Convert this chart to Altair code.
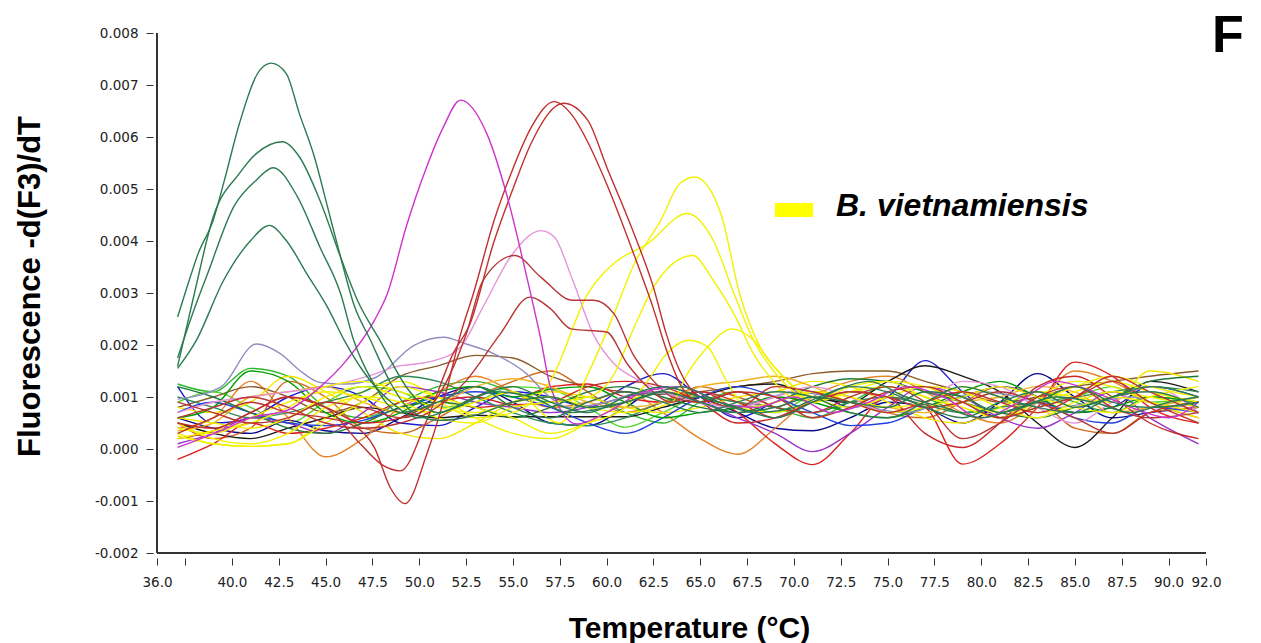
import altair as alt
import pandas as pd

# Melt-curve derivative traces, values in units of 0.001 (-dF/dT)

# Shared temperature grid for the non-amplifying background traces
grid_t = [37.1, 39, 41, 43, 45, 47, 49, 51, 53, 55, 57, 59, 61, 63, 65,
          67, 69, 71, 73, 75, 77, 79, 81, 83, 85, 87, 89, 91.6]

bg_green = [1.25, 1.1, 1.55, 1.4, 0.8, 0.6, 0.9, 1.2, 1.3, 1.1, 0.9, 1.0, 0.7, 0.5, 0.9, 1.1, 0.8, 0.6, 0.9, 1.2, 1.0, 0.7, 0.8, 1.1, 0.9, 0.7, 1.0, 0.9]
bg_lime = [0.9, 1.1, 0.8, 0.5, 0.9, 1.2, 1.1, 0.8, 0.9, 1.2, 1.15, 0.8, 0.42, 0.7, 1.0, 0.9, 0.7, 1.0, 0.9, 0.8, 1.1, 0.9, 0.6, 0.8, 1.0, 1.2, 0.9, 1.0]
bg_blue = [1.2, 0.5, 0.6, 1.0, 1.2, 1.0, 0.5, 0.45, 0.8, 1.1, 1.0, 0.8, 1.2, 1.45, 1.0, 0.6, 0.9, 1.1, 0.8, 1.0, 1.7, 1.1, 0.6, 0.9, 0.7, 0.8, 1.2, 1.0]
bg_navy = [0.6, 0.4, 0.3, 0.55, 0.35, 0.3, 0.6, 1.0, 1.2, 0.9, 0.5, 0.45, 0.8, 1.2, 1.0, 0.7, 0.4, 0.35, 0.6, 0.9, 0.8, 0.5, 0.9, 1.45, 1.0, 0.6, 0.7, 0.8]
bg_orange = [0.4, 0.6, 1.3, 0.6, -0.15, 0.2, 0.8, 1.1, 1.4, 1.1, 0.8, 0.9, 1.1, 0.7, 0.2, -0.1, 0.4, 1.0, 1.3, 1.4, 1.1, 0.7, 0.5, 0.9, 1.5, 1.3, 0.9, 0.6]
bg_dkorange = [0.5, 0.2, 0.4, 1.3, 1.0, 0.4, 0.3, 0.6, 1.0, 1.3, 1.5, 1.1, 0.7, 0.9, 1.2, 1.0, 0.8, 1.1, 1.0, 0.7, 0.6, 0.9, 1.2, 1.0, 0.4, 0.3, 0.7, 0.8]
bg_brown = [0.8, 1.0, 1.2, 1.0, 0.7, 0.9, 1.4, 1.6, 1.8, 1.75, 1.4, 1.2, 1.1, 1.05, 1.1, 1.2, 1.3, 1.45, 1.5, 1.5, 1.3, 1.1, 0.9, 1.0, 1.2, 1.3, 1.4, 1.5]
bg_black = [0.5, 0.3, 0.2, 0.4, 0.6, 0.8, 0.7, 0.6, 0.65, 0.62, 0.62, 0.62, 0.62, 0.8, 1.0, 1.2, 1.25, 1.0, 0.9, 1.3, 1.6, 1.4, 1.1, 0.5, 0.03, 0.6, 1.3, 1.1]
bg_red = [-0.2, 0.1, 0.5, 0.3, 0.4, 0.6, 0.9, 1.0, 0.8, 0.9, 1.2, 1.25, 1.0, 0.9, 1.1, 0.7, 0.1, -0.3, 0.3, 1.0, 0.8, -0.29, 0.1, 0.8, 1.67, 1.4, 0.8, 0.5]
bg_yellow = [0.3, 0.1, 0.05, 0.1, 0.6, 1.1, 1.3, 1.0, 0.6, 0.3, 0.2, 0.5, 0.9, 1.1, 1.0, 0.8, 0.7, 0.9, 1.1, 1.2, 1.0, 0.8, 0.6, 1.0, 1.3, 1.2, 0.9, 0.6]
bg_yellow2 = [0.8, 0.7, 0.9, 1.4, 1.1, 0.7, 0.3, 0.2, 0.5, 0.9, 1.1, 1.0, 0.8, 0.7, 0.8, 1.0, 1.1, 1.3, 1.2, 0.9, 0.6, 0.5, 0.8, 1.1, 1.0, 0.9, 1.5, 1.3]
bg_purple = [0.1, 0.3, 0.6, 0.5, 0.3, 0.7, 1.2, 1.1, 0.9, 0.8, 0.7, 0.8, 1.0, 1.1, 0.9, 0.6, 0.3, -0.05, 0.3, 0.8, 1.2, 1.0, 0.6, 0.4, 0.7, 1.1, 0.6, 0.1]
bg_teal = [1.0, 0.8, 0.6, 0.7, 0.9, 1.1, 1.4, 1.3, 1.0, 0.7, 0.5, 0.45, 0.6, 0.9, 1.0, 0.9, 0.8, 0.7, 0.9, 1.0, 0.85, 0.7, 0.8, 0.9, 1.0, 1.1, 1.2, 1.1]
bg_blue2 = [0.7, 0.9, 0.7, 0.5, 0.45, 0.55, 0.8, 1.0, 1.1, 1.0, 0.8, 0.5, 0.3, 0.6, 1.0, 1.2, 1.0, 0.7, 0.45, 0.5, 0.8, 1.0, 1.2, 1.0, 0.6, 0.5, 0.8, 0.7]
bg_green2 = [0.6, 0.8, 1.5, 1.3, 0.7, 0.5, 0.7, 1.1, 1.2, 1.0, 1.15, 1.2, 0.9, 0.6, 0.7, 0.8, 1.0, 0.9, 0.7, 0.6, 0.8, 1.1, 1.3, 1.0, 0.7, 0.8, 1.0, 0.9]
bg_gold = [0.35, 0.5, 1.0, 1.1, 1.2, 0.9, 0.7, 0.85, 1.2, 1.35, 1.2, 0.9, 0.8, 0.9, 1.2, 1.3, 1.4, 1.2, 0.9, 0.8, 0.7, 0.9, 1.0, 1.2, 1.1, 0.7, 0.8, 1.0]
bg_dkgreen = [1.2, 1.0, 0.7, 0.4, 0.3, 0.5, 0.8, 0.9, 0.8, 0.6, 0.8, 1.1, 1.2, 1.0, 0.8, 0.7, 0.9, 1.2, 1.35, 1.3, 1.1, 0.9, 0.7, 0.6, 0.8, 1.0, 1.3, 1.4]
bg_red2 = [0.2, 0.35, 0.7, 1.0, 0.8, 0.5, 0.6, 0.9, 1.0, 0.85, 0.9, 1.2, 1.3, 1.2, 0.9, 0.5, 0.6, 0.9, 1.1, 1.0, 0.3, 0.03, 0.5, 1.2, 1.4, 1.0, 0.5, 0.2]

# Low-Tm products (green)
g1_t = [37.1, 37.6, 38.2, 39.0, 39.6, 40.4, 41.5, 42.1, 42.9, 43.6, 44.4, 45.1, 45.8, 46.5, 47.4, 48.5, 49.5, 51, 53, 55, 57, 59, 61, 63, 65, 67, 69, 71, 73, 75, 77, 79, 81, 83, 85, 87, 89, 91.6]
g1_v = [2.54, 3.11, 3.76, 4.40, 5.17, 6.26, 7.29, 7.42, 7.22, 6.45, 5.62, 4.66, 3.69, 2.79, 2.09, 1.25, 0.75, 0.55, 0.65, 0.9, 1.0, 0.8, 0.9, 1.1, 0.9, 0.7, 0.8, 1.0, 0.9, 0.8, 1.1, 1.0, 0.7, 0.9, 1.2, 0.9, 0.8, 0.9]
g2_t = [37.1, 38.0, 39.0, 40.4, 41.3, 42.7, 43.6, 44.7, 45.8, 46.7, 47.9, 49.5, 51, 53, 55, 57, 59, 61, 63, 65, 67, 69, 71, 73, 75, 77, 79, 81, 83, 85, 87, 89, 91.6]
g2_v = [1.59, 3.0, 4.46, 5.30, 5.68, 5.91, 5.62, 4.78, 3.69, 2.86, 2.09, 1.1, 0.7, 1.0, 1.2, 0.9, 0.7, 1.0, 1.2, 1.0, 0.8, 0.6, 0.9, 1.2, 1.1, 0.8, 0.6, 0.9, 1.1, 0.8, 1.0, 1.2, 1.0]
g3_t = [37.1, 38.0, 38.7, 40.1, 41.3, 42.2, 43.5, 44.7, 45.8, 46.5, 47.5, 49, 51, 53, 55, 57, 59, 61, 63, 65, 67, 69, 71, 73, 75, 77, 79, 81, 83, 85, 87, 89, 91.6]
g3_v = [1.75, 2.7, 3.37, 4.66, 5.17, 5.41, 4.85, 3.88, 2.99, 2.09, 1.3, 0.7, 0.9, 1.2, 0.8, 0.6, 0.9, 1.1, 0.9, 0.7, 0.9, 1.1, 1.0, 0.7, 0.6, 0.9, 1.2, 1.0, 0.8, 0.7, 1.0, 1.1, 0.8]
g4_t = [37.1, 38.1, 39.55, 41.0, 42.0, 42.9, 44.0, 45.1, 46.0, 47.0, 48.5, 50, 52, 54, 56, 58, 60, 62, 64, 66, 68, 70, 72, 74, 76, 78, 80, 82, 84, 86, 88, 90, 91.6]
g4_v = [1.55, 2.09, 3.24, 4.01, 4.3, 4.01, 3.37, 2.73, 2.09, 1.5, 0.9, 0.6, 0.8, 1.1, 1.0, 0.7, 0.8, 1.0, 1.2, 0.9, 0.7, 0.8, 1.1, 1.3, 1.0, 0.8, 0.6, 0.8, 1.0, 0.9, 0.7, 0.9, 1.0]

# Magenta product, Tm ~52
m_t = [37.1, 38, 39.4, 41, 43, 44.7, 46.1, 47.6, 48.3, 49.3, 50.4, 51.3, 52.2, 53.6, 54.7, 55.7, 56.5, 57.0, 58.4, 60, 62, 64, 66, 68, 70, 72, 74, 76, 78, 80, 82, 84, 86, 88, 90, 91.6]
m_v = [0.03, 0.15, 0.35, 0.6, 0.75, 1.19, 1.7, 2.47, 2.99, 4.27, 5.43, 6.2, 6.71, 6.07, 4.85, 3.37, 2.09, 1.2, 0.48, 0.7, 1.1, 1.2, 0.9, 0.8, 1.0, 0.7, 0.9, 1.2, 1.0, 0.6, 0.9, 1.3, 1.1, 0.8, 0.6, 0.9]

# Red products, Tm ~55-58
r1_t = [37.1, 39, 41, 43, 45, 46.5, 47.6, 48.45, 49.25, 50.4, 51.5, 52.2, 52.9, 54.0, 54.9, 56.0, 57.2, 58.2, 59.0, 60.0, 61.4, 62.5, 63.2, 64.0, 65, 67, 69, 71, 73, 75, 77, 79, 81, 83, 85, 87, 89, 91.6]
r1_v = [0.3, 0.6, 0.9, 0.7, 0.6, 0.45, 0.03, -0.74, -1.05, -0.1, 1.19, 2.2, 3.0, 4.4, 5.3, 6.2, 6.68, 6.4, 5.9, 5.1, 3.8, 2.7, 1.9, 1.2, 0.9, 1.1, 1.0, 0.6, 0.8, 1.1, 1.2, 0.9, 0.6, 0.8, 1.0, 1.3, 0.9, 0.5]
r2_t = [37.1, 39, 41, 43, 45, 46.85, 48, 49.0, 50.4, 51.8, 52.7, 54.0, 55.0, 56.0, 57.7, 59.0, 60.0, 61.4, 62.5, 63.2, 63.9, 65, 67, 69, 71, 73, 75, 77, 79, 81, 83, 85, 87, 89, 91.6]
r2_v = [0.5, 0.4, 0.7, 1.0, 0.8, 0.1, -0.3, -0.42, 0.55, 1.83, 2.4, 4.0, 5.0, 5.9, 6.65, 6.32, 5.43, 4.2, 3.11, 2.2, 1.51, 1.0, 0.8, 1.2, 1.1, 0.9, 0.7, 0.9, 1.1, 0.9, 0.7, 1.0, 1.4, 1.1, 0.7]
r3_t = [37.1, 39, 41, 43, 45, 47, 49, 50.5, 51.65, 52.5, 53.4, 55.1, 56.5, 58.2, 59.3, 60.4, 61.4, 62.5, 63.5, 65, 67, 69, 71, 73, 75, 77, 79, 81, 83, 85, 87, 89, 91.6]
r3_v = [0.9, 0.7, 0.5, 0.6, 0.9, 0.8, 0.6, 0.8, 1.44, 2.2, 3.24, 3.72, 3.3, 2.86, 2.86, 2.6, 1.83, 1.31, 1.0, 0.9, 1.1, 0.8, 0.7, 1.0, 1.2, 0.9, 0.2, 0.5, 1.0, 1.2, 0.8, 0.6, 0.7]
r4_t = [37.1, 39, 41, 43, 45, 47, 49, 50.5, 52.5, 54.3, 55.9, 57, 58.1, 60.0, 61.1, 62.2, 63.5, 65, 67, 69, 71, 73, 75, 77, 79, 81, 83, 85, 87, 89, 91.6]
r4_v = [0.6, 0.8, 1.0, 0.8, 0.5, 0.4, 0.5, 0.7, 1.31, 2.2, 2.92, 2.7, 2.31, 2.25, 1.64, 1.19, 0.9, 1.1, 0.9, 0.6, 0.9, 1.1, 1.0, 0.8, 0.9, 1.1, 0.9, 0.6, 0.3, 0.7, 0.9]

# Pink and slate traces
p_t = [37.1, 39, 41, 43, 45, 47.6, 48.6, 50.8, 52.2, 53.4, 55.0, 56.5, 57.2, 58.2, 59.3, 60.4, 61.8, 63, 65, 67, 69, 71, 73, 75, 77, 79, 81, 83, 85, 87, 89, 91.6]
p_v = [0.7, 0.9, 1.0, 1.1, 1.2, 1.44, 1.57, 1.7, 1.96, 2.73, 3.76, 4.2, 4.08, 3.24, 2.2, 1.64, 1.31, 1.1, 0.9, 0.8, 1.0, 1.2, 1.0, 0.7, 0.9, 1.3, 1.2, 0.8, 0.5, 0.9, 1.2, 0.7]
s_t = [37.1, 39.4, 41.3, 42.6, 43.65, 44.7, 46.1, 47.7, 49.7, 51.3, 52.5, 54.0, 55.75, 56.8, 58, 60, 62, 64, 66, 68, 70, 72, 74, 76, 78, 80, 82, 84, 86, 88, 90, 91.6]
s_v = [0.96, 1.19, 2.02, 1.83, 1.5, 1.28, 1.25, 1.38, 1.99, 2.15, 2.02, 1.83, 1.44, 1.05, 0.8, 0.9, 1.1, 1.0, 0.8, 0.9, 1.1, 1.0, 0.8, 0.7, 0.9, 1.1, 1.0, 0.8, 0.9, 1.0, 0.8, 0.9]

# B. vietnamiensis (yellow), Tm ~64-67
y1_t = [37.1, 39, 41, 43, 45, 47, 49, 51, 53, 55, 57.5, 59.0, 60.4, 61.4, 62.9, 63.9, 64.7, 66.1, 67.1, 68.2, 69.3, 70.0, 71, 73, 75, 77, 79, 81, 83, 85, 87, 89, 91.6]
y1_v = [0.4, 0.3, 0.6, 0.9, 1.1, 1.0, 0.8, 0.7, 0.9, 1.1, 0.5, 1.44, 2.6, 3.5, 4.4, 5.1, 5.23, 4.53, 2.99, 1.96, 1.44, 1.19, 1.0, 0.8, 1.0, 1.2, 1.1, 0.8, 0.6, 0.9, 1.1, 1.0, 0.8]
y2_t = [37.1, 39, 41, 43, 45, 47, 49, 51, 53, 55, 56, 57.0, 59.0, 60.5, 62.2, 64.3, 65.7, 66.8, 67.85, 68.9, 70, 71, 73, 75, 77, 79, 81, 83, 85, 87, 89, 91.6]
y2_v = [0.2, 0.35, 0.5, 0.8, 1.2, 1.3, 1.1, 0.9, 0.6, 0.7, 0.9, 1.31, 2.99, 3.6, 3.95, 4.53, 4.01, 2.99, 2.09, 1.51, 1.1, 0.9, 1.1, 1.3, 1.2, 0.9, 0.7, 0.9, 1.2, 1.4, 1.2, 1.0]
y3_t = [37.1, 39, 41, 43, 45, 47, 49, 51, 53, 55, 57, 59, 60.4, 61.4, 62.5, 64.6, 65.7, 66.8, 67.85, 68.9, 70, 71, 73, 75, 77, 79, 81, 83, 85, 87, 89, 91.6]
y3_v = [0.5, 0.2, 0.1, 0.3, 0.8, 1.0, 0.9, 0.6, 0.5, 0.8, 0.9, 1.0, 1.44, 2.28, 3.11, 3.72, 3.24, 2.6, 1.83, 1.31, 1.0, 1.1, 0.9, 0.7, 0.8, 1.0, 1.2, 1.0, 0.8, 0.7, 1.0, 1.2]
y4_t = [37.1, 39, 41, 43, 45, 47, 49, 51, 53, 55, 57, 59, 61, 63.5, 64.3, 65.4, 66.7, 67.85, 68.9, 70.0, 71, 73, 75, 77, 79, 81, 83, 85, 87, 89, 91.6]
y4_v = [0.6, 0.5, 0.4, 0.6, 1.0, 1.2, 1.0, 0.8, 0.7, 0.9, 1.0, 0.8, 0.7, 0.9, 1.44, 1.96, 2.31, 2.09, 1.6, 1.19, 0.9, 1.2, 1.3, 1.0, 0.8, 0.6, 0.9, 1.1, 1.3, 1.1, 0.9]
y5_t = [37.1, 39, 41, 43, 45, 47, 49, 51, 53, 55, 57, 59, 61, 62.2, 63.2, 64.4, 65.4, 66.4, 67.5, 69, 71, 73, 75, 77, 79, 81, 83, 85, 87, 89, 91.6]
y5_v = [0.25, 0.1, 0.05, 0.1, 0.5, 0.9, 1.2, 1.0, 0.8, 0.6, 0.3, 0.5, 0.8, 1.31, 1.83, 2.09, 1.96, 1.31, 0.8, 0.9, 1.1, 1.0, 0.8, 0.9, 1.2, 1.0, 0.7, 0.8, 1.0, 0.9, 0.7]

background = [
    ("bg_green", "#2db82d", bg_green), ("bg_lime", "#55d633", bg_lime),
    ("bg_blue", "#1a1acc", bg_blue), ("bg_navy", "#0a0a8c", bg_navy),
    ("bg_orange", "#e5842a", bg_orange), ("bg_dkorange", "#d06a1a", bg_dkorange),
    ("bg_brown", "#8b5a2b", bg_brown), ("bg_black", "#1a1a1a", bg_black),
    ("bg_red", "#dd2020", bg_red), ("bg_yellow", "#f0f000", bg_yellow),
    ("bg_yellow2", "#f5e600", bg_yellow2), ("bg_purple", "#9a35c8", bg_purple),
    ("bg_teal", "#2e8b57", bg_teal), ("bg_blue2", "#2040e0", bg_blue2),
    ("bg_green2", "#00a000", bg_green2), ("bg_gold", "#f0b020", bg_gold),
    ("bg_dkgreen", "#1f7a3a", bg_dkgreen), ("bg_red2", "#c82828", bg_red2),
]

peaks = [
    ("slate", "#8f8fc0", s_t, s_v), ("pink", "#e693d9", p_t, p_v),
    ("y1", "#f2f200", y1_t, y1_v), ("y2", "#f2f200", y2_t, y2_v),
    ("y3", "#f2f200", y3_t, y3_v), ("y4", "#f2f200", y4_t, y4_v),
    ("y5", "#f2f200", y5_t, y5_v),
    ("r3", "#b83636", r3_t, r3_v), ("r4", "#b83636", r4_t, r4_v),
    ("r1", "#c0302e", r1_t, r1_v), ("r2", "#c0302e", r2_t, r2_v),
    ("magenta", "#cc33cc", m_t, m_v),
    ("g1", "#2b7b52", g1_t, g1_v), ("g2", "#2b7b52", g2_t, g2_v),
    ("g3", "#2b7b52", g3_t, g3_v), ("g4", "#2b7b52", g4_t, g4_v),
]

rows = []
for name, color, vals in background:
    if len(vals) != len(grid_t):
        raise ValueError(name)
    for t, v in zip(grid_t, vals):
        rows.append({"series": name, "color": color, "temp": t, "value": v / 1000})
for name, color, ts, vals in peaks:
    if len(vals) != len(ts):
        raise ValueError(name)
    for t, v in zip(ts, vals):
        rows.append({"series": name, "color": color, "temp": t, "value": v / 1000})
df = pd.DataFrame(rows)

x_ticks = [36, 37.5, 40, 42.5, 45, 47.5, 50, 52.5, 55, 57.5, 60, 62.5, 65, 67.5,
           70, 72.5, 75, 77.5, 80, 82.5, 85, 87.5, 90, 92]
y_ticks = [-0.002, -0.001, 0.0, 0.001, 0.002, 0.003, 0.004, 0.005, 0.006, 0.007, 0.008]

W, H = 1049, 520
x_scale = alt.Scale(domain=[36, 92], nice=False, zero=False)
y_scale = alt.Scale(domain=[-0.002, 0.008], nice=False, zero=False)

lines = alt.Chart(df).mark_line(strokeWidth=1.4, interpolate="monotone").encode(
    x=alt.X("temp:Q", scale=x_scale, axis=alt.Axis(
        values=x_ticks,
        labelExpr="datum.value == 37.5 ? '' : format(datum.value, '.1f')",
        domain=False, grid=False, offset=5, tickSize=7, tickColor="#333",
        labelFont="DejaVu Sans", labelFontSize=13.5, labelColor="#222",
        labelPadding=10, labelFlush=False, labelOverlap=False,
        title="Temperature (°C)", titleFont="Liberation Sans", titleFontSize=30,
        titleFontWeight="bold", titleColor="#000", titleX=532, titleY=79,
        titleBaseline="alphabetic", titleAlign="center")),
    y=alt.Y("value:Q", scale=y_scale, axis=alt.Axis(
        values=y_ticks,
        labelExpr="(datum.value < -0.0000001 ? '-' : '') + format(abs(datum.value), '.3f')",
        domain=False, grid=False, offset=4, tickSize=7, tickColor="#333",
        labelFont="DejaVu Sans", labelFontSize=13.5, labelColor="#222",
        labelPadding=8, labelOverlap=False,
        title="Fluorescence -d(F3)/dT", titleFont="Liberation Sans", titleFontSize=31,
        titleFontWeight="bold", titleColor="#000", titleAngle=270,
        titleX=-123, titleY=253, titleAlign="center", titleBaseline="middle")),
    color=alt.Color("color:N", scale=None),
    detail="series:N",
    order=alt.Order("temp:Q"),
)

axis_df = pd.DataFrame({"t0": [36.0], "v0": [-0.002]})
x_line = alt.Chart(axis_df).mark_rule(color="#333", strokeWidth=2).encode(
    y=alt.Y("v0:Q", scale=y_scale))
y_line = alt.Chart(axis_df).mark_rule(color="#333", strokeWidth=2).encode(
    x=alt.X("t0:Q", scale=x_scale))

one = pd.DataFrame({"k": [0]})
legend_swatch = alt.Chart(one).mark_rect(color="#ffff00").encode(
    x=alt.value(618), x2=alt.value(656), y=alt.value(170), y2=alt.value(184))
legend_text = alt.Chart(one).mark_text(
    text="B. vietnamiensis", font="Liberation Sans", fontSize=32, fontWeight="bold",
    fontStyle="italic", align="left", baseline="alphabetic", color="#000"
).encode(x=alt.value(679), y=alt.value(183))
panel_tag = alt.Chart(one).mark_text(
    text="F", font="Liberation Sans", fontSize=52, fontWeight="bold",
    align="left", baseline="alphabetic", color="#000"
).encode(x=alt.value(1055), y=alt.value(19))

chart = alt.layer(lines, x_line, y_line, legend_swatch, legend_text, panel_tag).properties(
    width=W, height=H,
    autosize=alt.AutoSizeParams(type="none"),
    padding={"left": 157, "top": 33, "right": 55, "bottom": 90},
    background="white",
).configure_view(stroke=None)

chart.save("out.html", embed_options={"renderer": "svg", "actions": False})
